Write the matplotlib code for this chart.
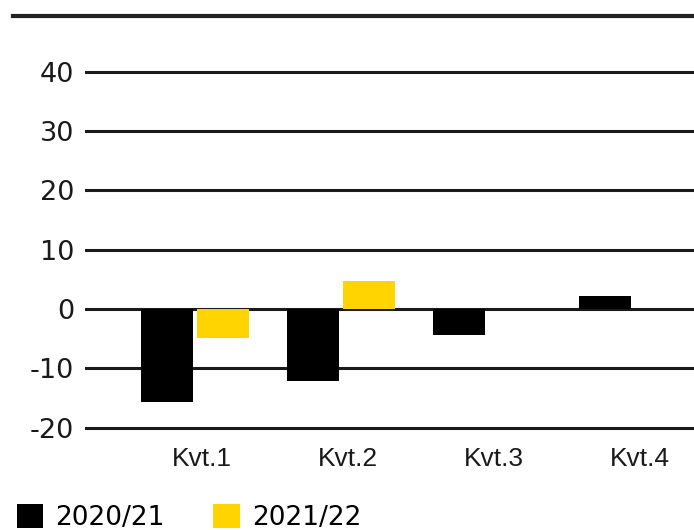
import matplotlib
matplotlib.use("Agg")
import matplotlib.pyplot as plt
from matplotlib.lines import Line2D
from matplotlib.patches import Patch
import numpy as np

categories = ["Kvt.1", "Kvt.2", "Kvt.3", "Kvt.4"]
series_names = ["2020/21", "2021/22"]
values_2020_21 = [-15.7, -12.1, -4.4, 2.2]
values_2021_22 = [-4.9, 4.7, np.nan, np.nan]
yticks = [-20, -10, 0, 10, 20, 30, 40]
ytick_labels = ["-20", "-10", "0", "10", "20", "30", "40"]

black = "#000000"
yellow = "#FFD400"

plt.rcParams["font.family"] = ["Liberation Sans", "DejaVu Sans"]

W, H = 694, 530
fig = plt.figure(figsize=(W / 100, H / 100), dpi=100)
ax = fig.add_axes([85 / W, 1 - 433.5 / H, 1 - 85 / W, (433.5 - 66) / H])

x = np.arange(len(categories))
bw = 0.355
off = 0.19

for yv in yticks:
    ax.axhline(yv, color="#1a1a1a", lw=2.2, zorder=1)

ax.bar(x - off, values_2020_21, width=bw, color=black, zorder=2)
ax.bar(x + off, values_2021_22, width=bw, color=yellow, zorder=2)

ax.set_xlim(-0.753, 3.418)
ax.set_ylim(-21, 41)
ax.set_yticks(yticks)
ax.set_yticklabels(ytick_labels, family=["DejaVu Sans"], fontsize=19.5)
ax.set_xticks(x + 0.05)
ax.set_xticklabels(categories, fontsize=19)
ax.tick_params(axis="both", length=0, colors="#1a1a1a")
ax.tick_params(axis="y", pad=8)
ax.tick_params(axis="x", pad=10)
for s in ax.spines.values():
    s.set_visible(False)

# header rule
fig.add_artist(Line2D([13 / W, 1.0], [1 - 16 / H, 1 - 16 / H], color="#222222", lw=3, transform=fig.transFigure))

handles = [Patch(facecolor=black, edgecolor="none"), Patch(facecolor=yellow, edgecolor="none")]
fig.legend(handles, series_names, loc="upper left", bbox_to_anchor=(17 / W, 1 - 504 / H),
           ncol=2, frameon=False, prop={"family": ["DejaVu Sans"], "size": 19},
           handlelength=1.0, handleheight=1.0,
           handletextpad=0.45, columnspacing=1.85, borderpad=0, borderaxespad=0)

fig.savefig("out.png", dpi=100)
